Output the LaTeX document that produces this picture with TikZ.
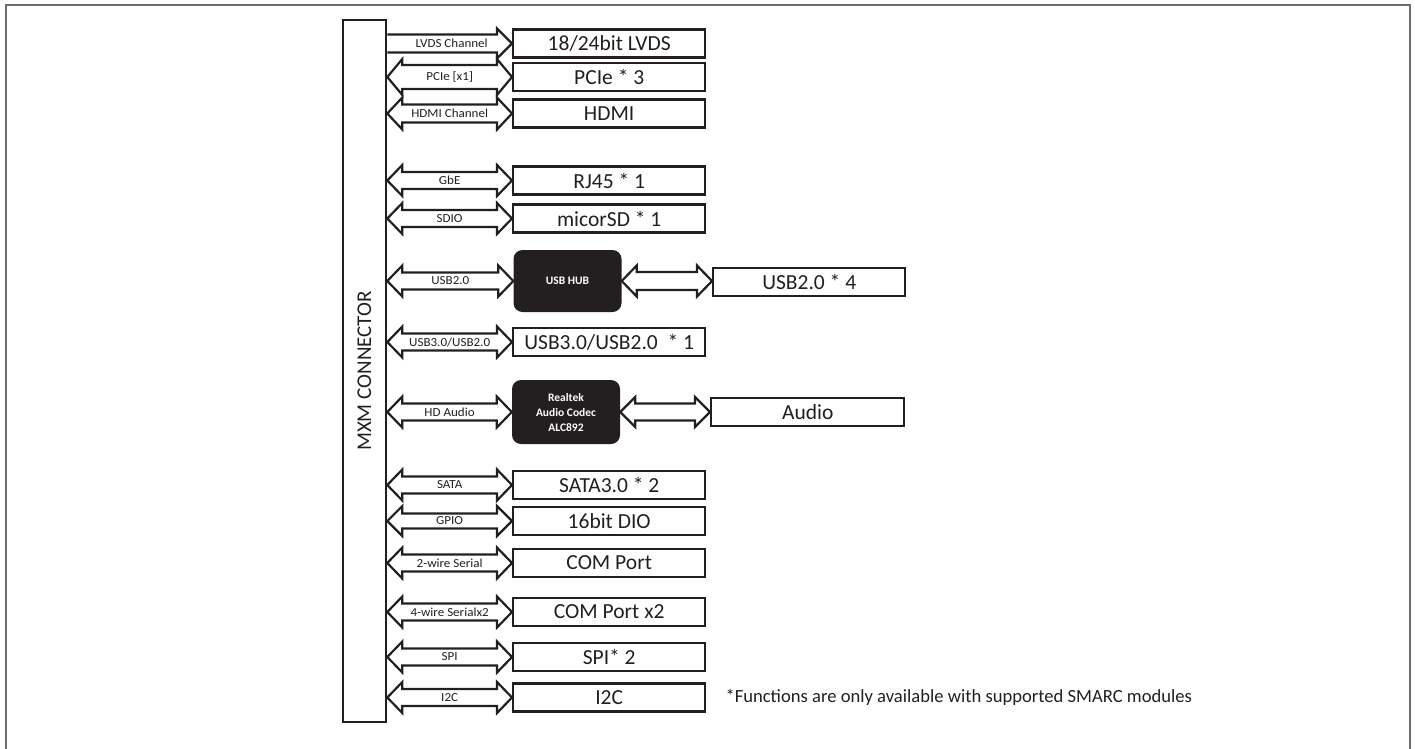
\documentclass[tikz,border=0pt]{standalone}
\usepackage{fontspec}
\setmainfont{Carlito}
\newfontfamily\labfont[FakeStretch=1.06]{Carlito}
\usetikzlibrary{calc}
\definecolor{ink}{HTML}{231F20}
\definecolor{framec}{HTML}{6D6E71}
% double block arrow: #1 start, #2 end, #3 shaft half height, #4 head half height, #5 label
\newcommand{\barrow}[5]{%
  \draw[arr] let \p1=(#1), \p2=(#2) in
    (\x1,\y1) -- (\x1+15pt,\y1+#4) -- (\x1+15pt,\y1+#3) -- (\x2-15pt,\y1+#3)
    -- (\x2-15pt,\y1+#4) -- (\x2,\y1) -- (\x2-15pt,\y1-#4) -- (\x2-15pt,\y1-#3)
    -- (\x1+15pt,\y1-#3) -- (\x1+15pt,\y1-#4) -- cycle
    node[lab] at ({(\x1+\x2)/2},\y1) {#5};}
% single block arrow (starting at connector)
\newcommand{\sarrow}[5]{%
  \draw[arr] let \p1=(#1), \p2=(#2) in
    (\x1,\y1+#3) -- (\x2-15pt,\y1+#3) -- (\x2-15pt,\y1+#4) -- (\x2,\y1)
    -- (\x2-15pt,\y1-#4) -- (\x2-15pt,\y1-#3) -- (\x1,\y1-#3)
    node[lab] at ({(\x1+\x2)/2+2pt},\y1) {#5};}
\begin{document}
\begin{tikzpicture}[x=1pt,y=-1pt,
  box/.style={draw=ink, line width=2.4pt, minimum width=192pt, minimum height=28pt,
    inner sep=0pt, anchor=west, font=\fontsize{21.5}{24}\selectfont, text=ink},
  chip/.style={fill=ink, rounded corners=9pt, minimum width=108pt, minimum height=62pt,
    text=white, font=\bfseries\fontsize{11.5}{15}\selectfont, align=center, inner sep=0pt},
  arr/.style={draw=ink, line width=2.2pt, fill=white, line join=miter},
  lab/.style={font=\labfont\fontsize{12.3}{13}\selectfont, text=ink, inner sep=0pt}]
\useasboundingbox (0,0) rectangle (1415,748);
% outer frame
\draw[framec, line width=2pt] (6,752) -- (6,5) -- (1410,5) -- (1410,752);
% connector
\node[draw=ink, line width=2.6pt, minimum width=43pt, minimum height=702pt, inner sep=0pt] (mxm) at (364.5,371) {};
\node[rotate=90, font=\fontsize{21}{24}\selectfont, text=ink] (mxmlab) at (mxm.center) {MXM CONNECTOR};
% boxes
\node[box] (lvds) at (512,43.5) {18/24bit LVDS};
\node[box] (pcie) at (512,77) {PCIe * 3};
\node[box] (hdmi) at (512,113.5) {HDMI};
\node[box] (rj45) at (512,180.5) {RJ45 * 1};
\node[box] (sd) at (512,218.5) {micorSD * 1};
\node[chip] (hub) at (567.5,281) {USB HUB};
\node[box] (usb4) at (712,282) {USB2.0 * 4};
\node[box] (usb3) at (512,342) {USB3.0/USB2.0\ \ * 1};
\node[chip, minimum height=64pt] (codec) at (566,412) {Realtek\\Audio Codec\\ALC892};
\node[box, minimum width=193pt] (audio) at (710,412) {Audio};
\node[box] (sata) at (512,485) {SATA3.0 * 2};
\node[box] (dio) at (512,521) {16bit DIO};
\node[box] (com) at (512,563) {COM Port};
\node[box] (com2) at (512,612) {COM Port x2};
\node[box] (spi) at (512,657) {SPI* 2};
\node[box] (i2c) at (512,697.5) {I2C};
\node[anchor=west, font=\fontsize{18.6}{20}\selectfont, text=ink] (note) at (722,697) {*Functions are only available with supported SMARC modules};
% arrows
\sarrow{mxm.east |- lvds.west}{lvds.west}{9pt}{15pt}{LVDS Channel}
\barrow{mxm.east |- pcie.west}{pcie.west}{12pt}{18pt}{PCIe [x1]}
\barrow{mxm.east |- hdmi.west}{hdmi.west}{9pt}{16pt}{HDMI Channel}
\barrow{mxm.east |- rj45.west}{rj45.west}{8.5pt}{15.5pt}{GbE}
\barrow{mxm.east |- sd.west}{sd.west}{8.5pt}{15.5pt}{SDIO}
\barrow{mxm.east |- hub.west}{hub.west}{8.5pt}{15.5pt}{USB2.0}
\barrow{hub.east}{usb4.west |- hub.east}{9pt}{15.5pt}{}
\barrow{mxm.east |- usb3.west}{usb3.west}{8.5pt}{15.5pt}{USB3.0/USB2.0}
\barrow{mxm.east |- codec.west}{codec.west}{8.5pt}{15.5pt}{HD Audio}
\barrow{codec.east}{audio.west}{8.5pt}{15pt}{}
\barrow{mxm.east |- sata.west}{sata.west}{8.5pt}{15.5pt}{SATA}
\barrow{mxm.east |- dio.west}{dio.west}{7.5pt}{15pt}{GPIO}
\barrow{mxm.east |- com.west}{com.west}{8.5pt}{15.5pt}{2-wire Serial}
\barrow{mxm.east |- com2.west}{com2.west}{8.5pt}{15.5pt}{4-wire Serialx2}
\barrow{mxm.east |- spi.west}{spi.west}{8.5pt}{15.5pt}{SPI}
\barrow{mxm.east |- i2c.west}{i2c.west}{8.5pt}{15.5pt}{I2C}
\end{tikzpicture}
\end{document}
